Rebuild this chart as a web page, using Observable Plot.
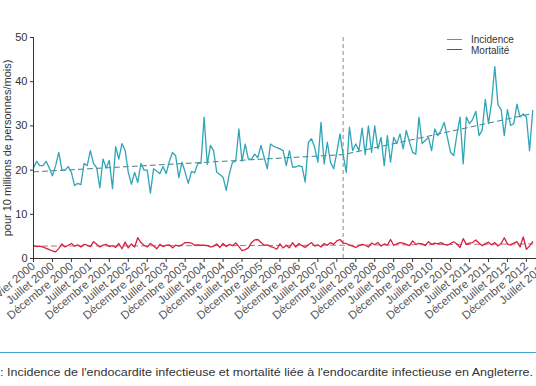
<!DOCTYPE html>
<html><head><meta charset="utf-8">
<script src="https://cdn.jsdelivr.net/npm/d3@7"></script>
<script src="https://cdn.jsdelivr.net/npm/@observablehq/plot@0.6"></script>
<style>
html,body{margin:0;padding:0;background:#fff;overflow:hidden;width:536px;height:386px;}
#wrap{position:relative;width:536px;height:386px;overflow:hidden;font-family:"Liberation Sans",Arial,sans-serif;}
#chart{position:absolute;left:0;top:0;}
#legend{position:absolute;left:447px;top:35px;font-size:10px;color:#333;line-height:10.5px;}
#legend div{position:relative;height:10.5px;white-space:nowrap;}
#legend span.sw{display:inline-block;width:15px;height:0;border-top:1.3px solid;vertical-align:middle;margin-right:9px;position:relative;top:-1px;}
#sep{position:absolute;left:0;top:352px;width:536px;height:0;border-top:1px solid #4aa6d6;}
#cap{position:absolute;left:0;top:362px;}
</style></head><body>
<div id="wrap">
<div id="chart"></div>
<div id="legend"></div>
<div id="sep"></div>
<svg id="cap" width="536" height="20"></svg>
</div>
<script>
// Monthly values, January 2000 onward (cases per 10 million persons per month)
const incidence = [
20.5,22,21,21,22,20.5,18.7,21,24,20,20,20.8,19.5,16.5,17,16.7,21.5,21,24.4,21.5,
20.5,16,22.5,20.5,22.2,15.8,25.3,22.5,26,24.5,19.5,16.8,19.5,17.2,21.5,20,20,14.8,20.3,19.8,
19.2,20.8,19.2,22,24,23.2,18.3,21.8,19.5,17,19.7,19.4,21.5,21.5,32,21.3,25.6,24.4,19.5,19,
18.4,15.4,19.2,21.8,22,29.3,22,25.9,22.5,22.5,23.6,22.8,25.6,22.9,20.3,25.9,25.4,25.1,24.8,24.4,
21,24.4,20.7,20.7,21,20.8,17.3,26.3,27.1,25.1,21.8,30.8,21.4,26.3,21.8,20.3,24,28.2,23.5,19.5,
29.7,24.4,25.9,24.4,29.5,23.5,30,24,30,24.8,27.4,21,27.8,21.8,27.4,26,28.2,24.8,29,26.3,
24,23.6,32,26,26.7,27.4,24.4,29.3,27.8,29,30.8,27.4,24,23.3,28,32,21.4,32,30.5,31.5,
33.3,27.8,29,36,30.5,35.4,43.4,34.8,33.7,27.8,33.7,30.1,30.5,34.9,32,32.7,32,24.4,33.5
];
const mortalite = [
2.9,2.7,2.8,2.6,2.3,2.0,1.7,1.5,2.3,3.3,2.6,
3.0,3.4,2.8,3.1,2.6,3.2,3.0,2.7,3.8,3.2,
2.6,3.0,3.2,2.7,2.9,2.5,3.4,2.2,3.7,2.4,
3.3,2.6,4.7,3.6,3.0,2.6,3.4,2.9,2.2,3.2,
2.7,3.0,3.1,2.4,3.0,2.8,3.1,3.6,3.6,3.5,
3.0,3.1,3.0,3.0,2.9,2.6,2.8,3.3,2.5,3.4,
2.7,3.2,2.9,3.5,2.7,1.8,2.0,2.4,3.6,4.2,
4.3,3.6,3.0,3.1,2.7,2.5,2.1,3.3,2.4,3.0,
2.4,3.6,2.6,3.4,2.9,2.5,3.1,3.6,2.8,3.1,
2.6,3.4,3.0,3.6,3.2,4.0,4.3,3.5,3.4,3.0,
2.8,2.5,2.9,3.2,3.0,2.6,3.5,3.1,3.6,2.8,
3.3,3.0,4.3,3.0,3.3,3.6,3.5,3.2,2.9,4.0,
3.2,3.4,3.3,2.9,3.8,3.2,3.5,3.3,3.6,3.2,
3.0,3.4,3.8,3.3,2.5,4.5,3.2,3.5,3.6,4.2,
3.5,2.9,3.3,3.7,3.1,3.6,2.8,3.4,4.7,3.3,
3.0,3.5,3.8,2.6,4.9,2.1,2.8,3.8
];
// Segmented trend (month index of knots and fitted values)
const trendMonths = [0, 98, 158];
const incidenceTrend = [19.6, 23.5, 32.8];
const mortaliteTrend = [2.8, 3.0, 3.3];
const breakMonth = 98; // mars 2008
// x tick labels (every 6 months)
const tickLabels = ["Janvier 2000","Juillet 2000","Décembre 2000","Juillet 2001","Décembre 2001","Juillet 2002","Décembre 2002","Juillet 2003","Décembre 2003","Juillet 2004","Décembre 2004","Juillet 2005","Décembre 2005","Juillet 2006","Décembre 2006","Juillet 2007","Décembre 2007","Juillet 2008","Décembre 2008","Juillet 2009","Décembre 2009","Juillet 2010","Décembre 2010","Juillet 2011","Décembre 2011","Juillet 2012","Décembre 2012","Juillet 2013"];
const tickStep = 6;
const yTicks = [0,10,20,30,40,50];
const yTitle = "pour 10 millions de personnes/mois)";
const series = ["Incidence","Mortalité"];
const colors = ["#2fa5b7","#d8203e"];
const caption = ": Incidence de l'endocardite infectieuse et mortalité liée à l'endocardite infectieuse en Angleterre.";

const incData = incidence.map((v,i)=>({t:i,v}));
const morData = mortalite.map((v,i)=>({t:i,v}));
const incTr = trendMonths.map((t,i)=>({t,v:incidenceTrend[i]}));
const morTr = trendMonths.map((t,i)=>({t,v:mortaliteTrend[i]}));
const tickPos = tickLabels.map((_,i)=>i*tickStep);

const chart = Plot.plot({
  width:536, height:345,
  marginTop:37, marginBottom:87, marginLeft:33, marginRight:0,
  style:{fontFamily:"Liberation Sans, Arial, sans-serif", background:"white", overflow:"visible"},
  x:{domain:[0,159.2]},
  y:{domain:[0,50]},
  marks:[
    Plot.ruleX([breakMonth],{stroke:"#8a8a8a", strokeWidth:1, strokeDasharray:"4,3"}),
    Plot.line(incTr,{x:"t",y:"v",stroke:"#3f7f86",strokeWidth:1,strokeDasharray:"5,4"}),
    Plot.line(morTr,{x:"t",y:"v",stroke:"#b9707a",strokeWidth:1,strokeDasharray:"5,4"}),
    Plot.line(incData,{x:"t",y:"v",stroke:colors[0],strokeWidth:1.3}),
    Plot.line(morData,{x:"t",y:"v",stroke:colors[1],strokeWidth:1.3}),
    Plot.ruleY([0],{stroke:"#333"}),
    Plot.ruleX([0],{stroke:"#333"}),
    Plot.axisY({ticks:yTicks, tickSize:3, tickPadding:3, fontSize:11, label:null, stroke:"#333", fill:"#333"}),
    Plot.axisX({ticks:tickPos, tickFormat:(d)=>tickLabels[d/tickStep], tickRotate:-40, tickSize:4, tickPadding:2, fontSize:11.5, label:null, stroke:"#333", fill:"#555"}),
    Plot.text([yTitle],{frameAnchor:"left", dx:-26, rotate:-90, textAnchor:"middle", lineAnchor:"middle", fontSize:11, fill:"#333", text:d=>d})
  ]
});
document.getElementById("chart").appendChild(chart);

const lg = document.getElementById("legend");
series.forEach((s,i)=>{
  const d = document.createElement("div");
  d.innerHTML = `<span class="sw" style="border-color:${colors[i]}"></span>${s}`;
  lg.appendChild(d);
});

const cap = d3.select("#cap");
cap.append("text").attr("x",0).attr("y",14).attr("font-size",10.8).attr("fill","#333")
  .attr("font-family","Liberation Sans, Arial, sans-serif")
  .attr("textLength",533).attr("lengthAdjust","spacingAndGlyphs").text(caption);
</script>
</body></html>
